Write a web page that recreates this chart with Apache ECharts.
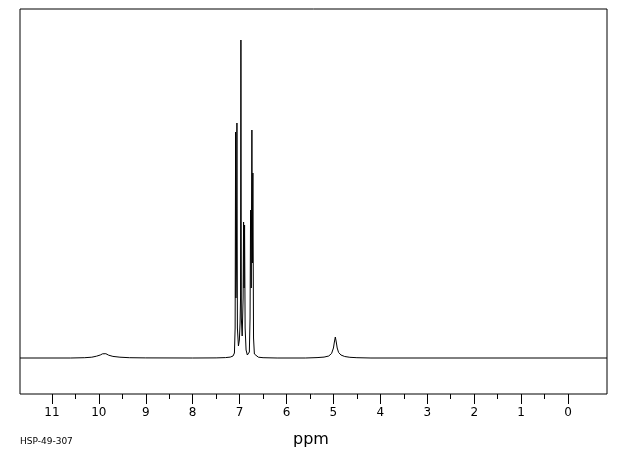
<!DOCTYPE html>
<html>
<head>
<meta charset="utf-8">
<script src="https://cdn.jsdelivr.net/npm/echarts@6/dist/echarts.min.js"></script>
<style>
  html, body { margin: 0; padding: 0; background: #fff; }
  #chart { width: 620px; height: 455px; }
</style>
</head>
<body>
<div id="chart"></div>
<script>
// spectrum trace: [ppm, intensity above baseline]
var spectrum = [
    [11.68, 0], [10.6, 0], [10.3, 0.3], [10.15, 0.8], [10.05, 1.8], [9.97, 3], [9.92, 4.2],
    [9.89, 5], [9.85, 4.3], [9.79, 2.8], [9.7, 1.6], [9.55, 0.8], [9.35, 0.3], [9.0, 0.1],
    [8.0, 0], [7.5, 0.1], [7.3, 0.4], [7.2, 0.9], [7.14, 2], [7.11, 5], [7.095, 30],
    [7.085, 226], [7.078, 60], [7.068, 90], [7.057, 235], [7.047, 30], [7.025, 12],
    [7.005, 18], [6.99, 35], [6.98, 60], [6.972, 318], [6.963, 40], [6.945, 22],
    [6.925, 60], [6.915, 136], [6.905, 70], [6.894, 133], [6.882, 30], [6.862, 8],
    [6.835, 3], [6.812, 2], [6.792, 6], [6.777, 40], [6.766, 148], [6.752, 70],
    [6.738, 228], [6.728, 95], [6.717, 185], [6.703, 20], [6.685, 4], [6.655, 2],
    [6.6, 0.8], [6.5, 0.3], [6.2, 0], [5.6, 0], [5.35, 0.4], [5.2, 0.9], [5.1, 2],
    [5.04, 4.5], [5.0, 10], [4.98, 16], [4.96, 21], [4.94, 16], [4.92, 10], [4.89, 5.5],
    [4.84, 3], [4.76, 1.5], [4.65, 0.7], [4.5, 0.3], [4.2, 0], [-0.83, 0]
];

var majorTicks = [11, 10, 9, 8, 7, 6, 5, 4, 3, 2, 1, 0];
var minorTicks = [10.5, 9.5, 8.5, 7.5, 6.5, 5.5, 4.5, 3.5, 2.5, 1.5, 0.5];

var chart = echarts.init(document.getElementById('chart'), null, { renderer: 'canvas' });

var option = {
    animation: false,
    backgroundColor: '#ffffff',
    grid: {
        left: 20,
        top: 9,
        right: 13,
        bottom: 61,
        show: true,
        borderColor: '#000',
        borderWidth: 1,
        backgroundColor: 'transparent'
    },
    xAxis: [
        {
            type: 'value',
            min: -0.83,
            max: 11.68,
            inverse: true,
            position: 'bottom',
            axisLine: { show: false, onZero: false },
            splitLine: { show: false },
            axisTick: {
                show: true,
                length: 10,
                lineStyle: { color: '#000', width: 1 },
                customValues: majorTicks
            },
            axisLabel: {
                show: true,
                margin: 13,
                color: '#000',
                fontFamily: 'DejaVu Sans',
                fontSize: 12,
                customValues: majorTicks,
                formatter: function(v) { return String(v); }
            }
        },
        {
            type: 'value',
            min: -0.83,
            max: 11.68,
            inverse: true,
            position: 'bottom',
            axisLine: { show: false, onZero: false },
            splitLine: { show: false },
            axisTick: {
                show: true,
                length: 5,
                lineStyle: { color: '#000', width: 1 },
                customValues: minorTicks
            },
            axisLabel: { show: false }
        }
    ],
    yAxis: {
        type: 'value',
        min: -36,
        max: 349,
        show: false
    },
    graphic: [
        {
            type: 'text',
            left: 293,
            top: 432,
            style: { text: 'ppm', fill: '#000', font: '16px "DejaVu Sans"' }
        },
        {
            type: 'text',
            left: 20,
            top: 437,
            style: { text: 'HSP-49-307', fill: '#000', font: '9px "DejaVu Sans"' }
        }
    ],
    series: [
        {
            type: 'line',
            xAxisIndex: 0,
            data: spectrum,
            showSymbol: false,
            smooth: false,
            lineStyle: { color: '#000', width: 1 }
        }
    ]
};

chart.setOption(option);
</script>
</body>
</html>
